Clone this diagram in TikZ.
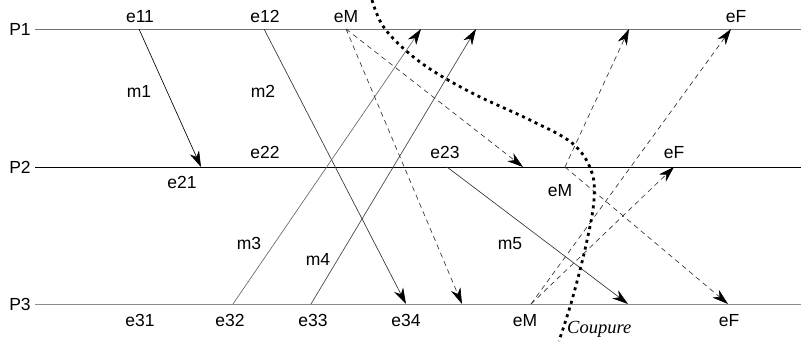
\documentclass[tikz,border=0pt]{standalone}
\usepackage{fontspec}
\setmainfont{Liberation Sans}
\newfontfamily\coupfont{Liberation Serif}
\usetikzlibrary{arrows.meta}
\begin{document}
\begin{tikzpicture}[x=1pt,y=-1pt,
  procline/.style={line width=0.9pt},
  msg/.style={line width=0.65pt, -{Stealth[length=16pt,width=10pt,inset=5pt,color=black]}},
  dmsg/.style={msg, dash pattern=on 5pt off 4pt},
  lbl/.style={anchor=base, inner sep=0pt, font=\fontsize{17.5}{19}\selectfont},
  cutline/.style={line width=2.8pt, dash pattern=on 3pt off 4pt}]
\useasboundingbox (0,0) rectangle (801,341);
% process lines
\node[lbl] (P1) at (20,35) {P1};
\node[lbl] (P2) at (20,173) {P2};
\node[lbl] (P3) at (20,310) {P3};
\coordinate (P1s) at (35,29); \coordinate (P1e) at (801,29);
\coordinate (P2s) at (35,167); \coordinate (P2e) at (801,167);
\coordinate (P3s) at (35,304); \coordinate (P3e) at (801,304);
\draw[procline, black!55] (P1s) -- (P1e);
\draw[procline, black] (P2s) -- (P2e);
\draw[procline, black!45] (P3s) -- (P3e);
% event points
\coordinate (p11) at (139,29);
\coordinate (p21) at (201,167);
\coordinate (p12) at (264,29);
\coordinate (p34) at (406,304);
\coordinate (p32) at (233,304);
\coordinate (r3) at (421,29);
\coordinate (p33) at (311,304);
\coordinate (r4) at (476,29);
\coordinate (p23) at (447,167);
\coordinate (p35) at (628,304);
\coordinate (pM1) at (346,29);
\coordinate (d1) at (523,167);
\coordinate (d2) at (462,304);
\coordinate (pM2) at (565,167);
\coordinate (d3) at (629,29);
\coordinate (d4) at (728,304);
\coordinate (pM3) at (531,304);
\coordinate (d5) at (674,167);
\coordinate (d6) at (731,29);
% messages
\draw[msg, black] (p11) -- (p21);
\draw[msg, black!80] (p12) -- (p34);
\draw[msg, black!60] (p32) -- (r3);
\draw[msg, black!75] (p33) -- (r4);
\draw[msg, black!80] (p23) -- (p35);
\draw[dmsg, black!80] (pM1) -- (d1);
\draw[dmsg, black!80] (pM1) -- (d2);
\draw[dmsg, black!80] (pM2) -- (d3);
\draw[dmsg, black!80] (pM2) -- (d4);
\draw[dmsg, black!80] (pM3) -- (d5);
\draw[dmsg, black!80] (pM3) -- (d6);
% cut
\draw[cutline] plot[smooth, tension=0.6] coordinates {(372,0) (385,29) (420,62) (470,92) (530,120) (572,143) (591,170) (594,200) (586,245) (572,300) (559,341)};
% labels
\node[lbl] (l11) at (140,22) {e11};
\node[lbl] (l12) at (265,22) {e12};
\node[lbl] (lM1) at (346,22) {eM};
\node[lbl] (lF1) at (736,22) {eF};
\node[lbl] (m1) at (139,97) {m1};
\node[lbl] (m2) at (263,97) {m2};
\node[lbl] (l22) at (265,158) {e22};
\node[lbl] (l23) at (445,158) {e23};
\node[lbl] (lF2) at (674,158) {eF};
\node[lbl] (l21) at (182,188) {e21};
\node[lbl] (lM2) at (560,196) {eM};
\node[lbl] (m3) at (249,249) {m3};
\node[lbl] (m4) at (318,265) {m4};
\node[lbl] (m5) at (510,249) {m5};
\node[lbl] (l31) at (140,326) {e31};
\node[lbl] (l32) at (230,326) {e32};
\node[lbl] (l33) at (313,326) {e33};
\node[lbl] (l34) at (406,326) {e34};
\node[lbl] (lM3) at (525,326) {eM};
\node[lbl] (lF3) at (729,326) {eF};
\node[anchor=base west, inner sep=0pt, font=\coupfont\itshape\fontsize{18.5}{20}\selectfont] (cp) at (567,333) {Coupure};
\end{tikzpicture}
\end{document}
